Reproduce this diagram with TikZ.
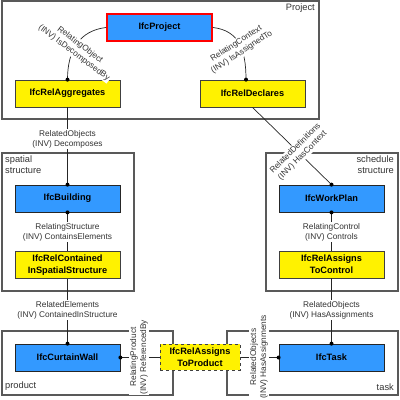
\documentclass[tikz,border=0pt]{standalone}
\usepackage{fontspec}
\setmainfont{Liberation Sans}
\setsansfont{Liberation Sans}
\begin{document}
\begin{tikzpicture}[x=1pt,y=-1pt,
  frame/.style={draw=black!65, line width=1.2pt},
  framelbl/.style={font=\fontsize{9.3}{10.8}\selectfont, text=black!80, inner sep=0pt},
  ent/.style={draw=black!85, line width=0.8pt, fill=blue!60!cyan!70!white, minimum width=105pt, minimum height=27pt, inner sep=0pt, font=\fontsize{9.2}{12}\selectfont\bfseries, align=center},
  rel/.style={draw=black!75, line width=0.8pt, fill=yellow, minimum width=105pt, minimum height=27pt, inner sep=0pt, font=\fontsize{9.2}{12}\selectfont\bfseries, align=center},
  lbl/.style={fill=white, inner sep=1pt, font=\fontsize{8.3}{10}\selectfont, text=black!80, align=center},
  conn/.style={draw=black!85, line width=0.7pt},
  dot/.style={fill=black}
]
\useasboundingbox (0,0) rectangle (400,400);
\definecolor{ifcblue}{RGB}{51,153,255}
% frames
\draw[frame] (2,1) rectangle (319,119);
\node[framelbl, anchor=north east] (flproj) at (315,4) {Project};
\draw[frame] (2,153) rectangle (134,291);
\node[framelbl, anchor=north west, align=left] (flspat) at (5,156) {spatial\\structure};
\draw[frame] (266,153) rectangle (398,291);
\node[framelbl, anchor=north east, align=right] (flsched) at (394,156) {schedule\\structure};
\draw[frame] (2,331) rectangle (173,395);
\node[framelbl, anchor=south west] (flprod) at (5,391) {product};
\draw[frame] (227,331) rectangle (398,395);
\node[framelbl, anchor=south east] (fltask) at (394,391) {task};
% boxes
\node[ent, fill=ifcblue, draw=red, line width=1.8pt] (proj) at (159.5,27.5) {IfcProject};
\node[rel] (agg) at (67.5,93.5) {IfcRelAggregates};
\node[rel] (decl) at (252.5,93.5) {IfcRelDeclares};
\node[ent, fill=ifcblue] (bld) at (67.5,198.5) {IfcBuilding};
\node[rel] (cont) at (67.5,265) {IfcRelContained\\InSpatialStructure};
\node[ent, fill=ifcblue] (wp) at (331.5,198.5) {IfcWorkPlan};
\node[rel] (actl) at (331.5,264.5) {IfcRelAssigns\\ToControl};
\node[ent, fill=ifcblue] (cw) at (67.5,357.5) {IfcCurtainWall};
\node[ent, fill=ifcblue] (task) at (331.5,357.5) {IfcTask};
% connectors
\draw[conn] (proj.west) .. controls +(-26,3) and +(0,-30) .. (agg.north);
\draw[conn] (proj.east) .. controls +(26,3) and +(0,-30) .. (decl.north -| 246,0);
\draw[conn] (agg.south) -- (bld.north);
\draw[conn] (bld.south) -- (cont.north);
\draw[conn] (cont.south) -- (cw.north);
\draw[conn] (decl.south) -- (wp.north);
\draw[conn] (wp.south) -- (actl.north);
\draw[conn] (actl.south) -- (task.north);
\draw[conn] (cw.east) -- (task.west);
% dashed relation box
\node[rel, dashed, minimum width=80pt, minimum height=26pt] (aprod) at (200,357) {IfcRelAssigns\\ToProduct};
% dots
\fill[dot] (agg.north) circle (2);
\fill[dot] (decl.north -| 246,0) circle (2);
\fill[dot] (bld.north) circle (2);
\fill[dot] (bld.south) circle (2);
\fill[dot] (wp.north) circle (2);
\fill[dot] (wp.south) circle (2);
\fill[dot] (cw.north) circle (2);
\fill[dot] (cw.east) circle (2);
\fill[dot] (task.north) circle (2);
\fill[dot] (task.west) circle (2);
% labels
\node[lbl, rotate=-37] (l1) at (77,49) {RelatingObject\\(INV) IsDecomposedBy};
\node[lbl, rotate=33] (l2) at (239,48) {RelatingContext\\(INV) IsAssignedTo};
\node[lbl, rotate=45] (l3) at (299,152) {RelatedDefinitions\\(INV) HasContext};
\node[lbl] (l4) at (67.5,139) {RelatedObjects\\(INV) Decomposes};
\node[lbl] (l5) at (67.5,232) {RelatingStructure\\(INV) ContainsElements};
\node[lbl] (l6) at (67.5,310) {RelatedElements\\(INV) ContainedInStructure};
\node[lbl] (l7) at (331.5,232) {RelatingControl\\(INV) Controls};
\node[lbl] (l8) at (331.5,310) {RelatedObjects\\(INV) HasAssignments};
\node[lbl, rotate=90] (l9) at (139,357) {RelatingProduct\\(INV) ReferencedBy};
\node[lbl, rotate=90] (l10) at (259,357) {RelatedObjects\\(INV) HasAssignments};
\end{tikzpicture}
\end{document}
